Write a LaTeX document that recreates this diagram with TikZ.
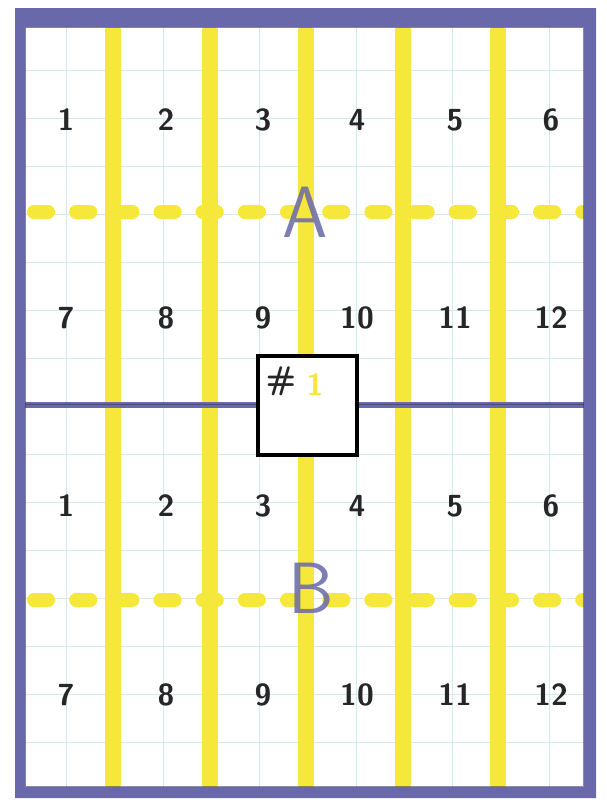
\documentclass[tikz,border=0pt]{standalone}
\usepackage{fontspec}
\definecolor{frameblue}{RGB}{104,104,170}
\definecolor{marker}{RGB}{246,232,58}
\definecolor{gridcyan}{RGB}{208,236,242}
\begin{document}
\begin{tikzpicture}[x=0.03cm, y=-0.03cm,
    num/.style={font=\sffamily\bfseries\fontsize{26}{28}\selectfont, text=black!85},
    letter/.style={font=\sffamily\fontsize{62}{62}\selectfont, text=frameblue, opacity=0.85},
    gridline/.style={gridcyan, line width=0.5pt},
    hilite/.style={marker, line width=13.5pt, line cap=round},
    dashline/.style={marker, line width=12pt, line cap=round, dash pattern=on 12pt off 24pt}]
    \useasboundingbox (0,0) rectangle (606,804);
    \fill[white] (0,0) rectangle (606,804);

    % Graph paper
    \foreach \i in {0,...,10} {
        \draw[gridline] (66.3+48.3*\i, 27) -- (66.3+48.3*\i, 787);
      }
    \foreach \i in {0,...,14} {
        \draw[gridline] (25, 70+48*\i) -- (584, 70+48*\i);
      }

    % Yellow columns
    \foreach \x in {113,210,306,403,498} {
        \draw[hilite] (\x, 30) -- (\x, 784);
      }

    % Dashed yellow rows
    \draw[dashline] (34,212) -- (584,212);
    \draw[dashline] (34,600) -- (584,600);

    % Middle divider and frame
    \draw[frameblue, line width=5pt] (25,405) -- (584,405);
    \draw[frameblue!60!black, line width=0.8pt, opacity=0.7] (25,404) -- (584,404);
    \fill[frameblue, even odd rule] (15,8) rectangle (596,798) (25,27) rectangle (584,787);
    \draw[frameblue!60!black, line width=1pt, opacity=0.6] (25.5,27.5) rectangle (583.5,786.5);

    % Labels
    \node[letter] (labA) at (305,212) {A};
    \node[letter] (labB) at (311,588) {B};

    % Tag box
    \node[draw=black, line width=3pt, fill=white, minimum size=2.97cm, inner sep=0pt] (tag) at (307.5,405.5) {};
    \node[font=\sffamily\bfseries\fontsize{28}{30}\selectfont, text=black!85] (hash) at (281,381) {\#};
    \node[font=\sffamily\bfseries\fontsize{26}{28}\selectfont, text=marker] (one) at (315,385) {1};

    % Numbers 1 through 12, twice
    \foreach \x [count=\i] in {66,166,263,357,455,551} {
        \pgfmathtruncatemacro{\j}{\i+6}
        \node[num] (a\i) at (\x,120) {\i};
        \node[num] (a\j) at (\x,318) {\j};
        \node[num] (b\i) at (\x,506) {\i};
        \node[num] (b\j) at (\x,695) {\j};
      }
  \end{tikzpicture}
\end{document}
